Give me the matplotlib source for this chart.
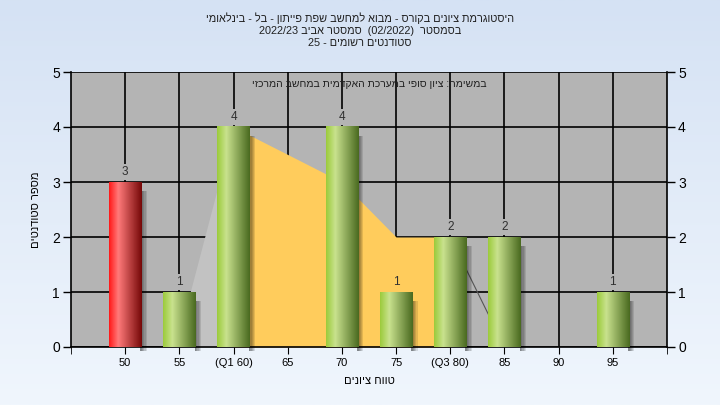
import re

import numpy as np
import matplotlib
matplotlib.use('Agg')
from matplotlib import pyplot as plt
from matplotlib.colors import LinearSegmentedColormap
from matplotlib.patches import Rectangle

# Data
categories = ['50', '55', '(Q1 60)', '65', '70', '75', '(Q3 80)', '85', '90', '95']
counts = [3, 1, 4, 0, 4, 1, 2, 2, 0, 1]
curve = [0, 0.25, 4, 3.5, 3, 2, 2, 0, 0, 0]
q1_idx = 2
q3_idx = 6
fail_idx = [0]

title_lines = ['היסטוגרמת ציונים בקורס - מבוא למחשב שפת פייתון - בל - בינלאומי',
               'בסמסטר  (02/2022)  סמסטר אביב 2022/23',
               'סטודנטים רשומים - 25']
note = 'במשימה: ציון סופי במערכת האקדמית במחשב המרכזי'
xlabel = 'טווח ציונים'
ylabel = 'מספר סטודנטים'

FONT = ['Liberation Sans', 'DejaVu Sans']
plt.rcParams['font.family'] = FONT

PLOT_BG = '#b4b4b4'
AREA_COLOR = '#ffcc5c'


def rtl(s):
    # matplotlib has no bidi: put an RTL line into visual order
    tokens = re.findall(r'[0-9A-Za-z][0-9A-Za-z/.]*[0-9A-Za-z]|[0-9A-Za-z]|.', s)
    mirror = {'(': ')', ')': '('}
    return ''.join(mirror.get(t, t) for t in reversed(tokens))


fig = plt.figure(figsize=(7.2, 4.05), dpi=100)

# Background gradient
bg = fig.add_axes([0, 0, 1, 1], zorder=-10)
grad = np.linspace(0, 1, 256).reshape(-1, 1)
bg_cmap = LinearSegmentedColormap.from_list('bg', ['#d5e2f4', '#f0f6fd'])
bg.imshow(grad, aspect='auto', cmap=bg_cmap, extent=[0, 1, 0, 1])
bg.axis('off')

ax = fig.add_axes([71/720, 1 - 347/405, (667 - 71)/720, (347 - 72)/405])
ax.set_facecolor(PLOT_BG)

x = np.arange(len(categories))
curve = np.array(curve, dtype=float)

# Distribution area
ax.fill_between(x[q1_idx-1:q1_idx+1], curve[q1_idx-1:q1_idx+1], color='#c2c2c2', lw=0, zorder=1)
ax.fill_between(x[q1_idx:q3_idx+1], curve[q1_idx:q3_idx+1], color=AREA_COLOR, lw=0, zorder=1.2)
ax.plot(x[q3_idx:], curve[q3_idx:], color='#555555', lw=0.8, zorder=1.3)

# Bars as cylinders
w = 0.6
green = LinearSegmentedColormap.from_list('g', [(0, '#9ccb3c'), (0.28, '#c9e28e'), (1, '#4a6a20')])
red = LinearSegmentedColormap.from_list('r', [(0, '#ff1a1a'), (0.28, '#ff7a7a'), (1, '#760808')])
shade = np.linspace(0, 1, 64).reshape(1, -1)
for i, v in enumerate(counts):
    if v == 0:
        continue
    # shadow
    for k in range(5):
        ax.add_patch(Rectangle((i + w/2 - 0.02, -0.07), 0.03 + k*0.022, v - 0.1,
                               color='black', alpha=0.11, lw=0, zorder=2.8, clip_on=False))
    cmap = red if i in fail_idx else green
    ax.imshow(shade, cmap=cmap, aspect='auto', extent=[i - w/2, i + w/2, 0, v], zorder=3)

    # label hides the grid line behind it
    behind = AREA_COLOR if (q1_idx <= i <= q3_idx and curve[i] > v + 0.3) else PLOT_BG
    ax.annotate(str(v), (i, v), xytext=(0, 3), textcoords='offset points',
                ha='center', va='bottom', fontsize=8.5, color='#303030', zorder=4,
                bbox=dict(facecolor=behind, edgecolor='none', pad=1.5))

ax.set_xlim(-1, len(categories))
ax.set_ylim(0, 5)
ax.set_xticks(x)
ax.set_xticklabels(categories, fontsize=8)
ax.set_xticks([-1, len(categories)], minor=True)
ax.set_yticks(range(6))
ax.tick_params(axis='y', labelsize=10, length=6, width=1, right=True, labelright=True, pad=2)
ax.tick_params(axis='x', length=5, pad=3, which='both')
ax.grid(True, color='black', lw=1.2)
ax.set_axisbelow(True)
for s in ax.spines.values():
    s.set_linewidth(1.2)
ax.spines['top'].set_visible(False)

ax.set_xlabel(rtl(xlabel), fontsize=8, labelpad=6)
ax.set_ylabel(rtl(ylabel), fontsize=8, labelpad=8)

ax.text(0.5, 0.955, rtl(note), transform=ax.transAxes, ha='center', va='center',
        fontsize=7.5, color='#202020', zorder=5)

ys = [18, 31, 43]
for line, y in zip(title_lines, ys):
    fig.text(0.5, 1 - y/405, rtl(line), ha='center', va='center', fontsize=7.8, color='#202020')

plt.savefig('out.png', dpi=100)
plt.close()
